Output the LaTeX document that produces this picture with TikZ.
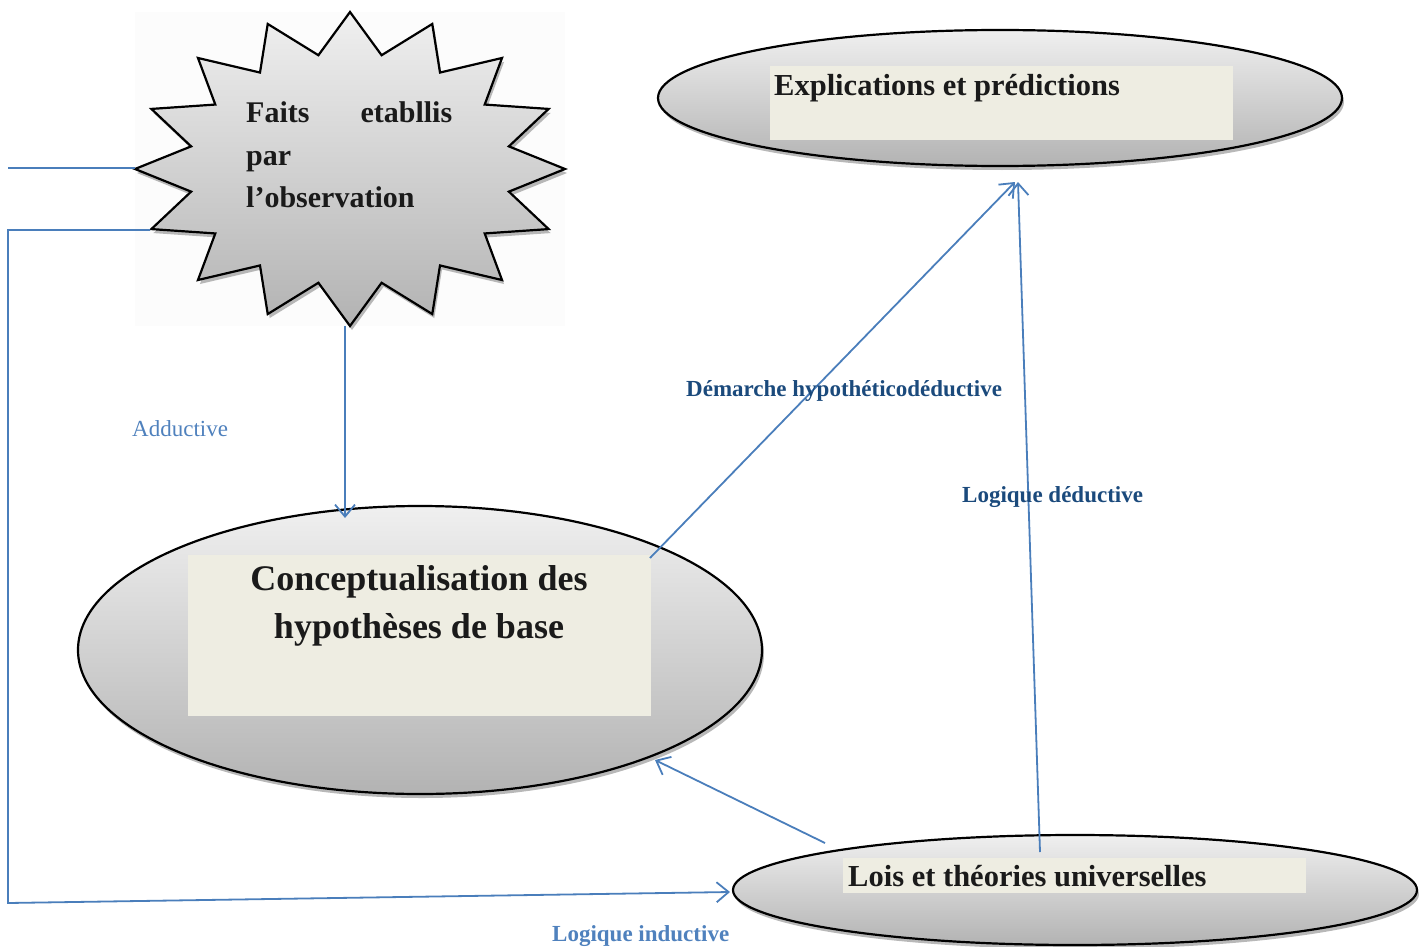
\documentclass[tikz,border=0pt]{standalone}
\usepackage{fontspec}
\setmainfont{Liberation Serif}
\usetikzlibrary{shapes.geometric,arrows.meta,shadows}
\definecolor{conn}{HTML}{4A7EBB}
\definecolor{lbldark}{HTML}{1B4A7C}
\definecolor{lbllight}{HTML}{4F81BD}
\definecolor{beige}{HTML}{EEEDE2}
\definecolor{ink}{HTML}{1A1A1A}
\definecolor{backdrop}{HTML}{FCFCFC}
\tikzset{
  grayfill/.style={top color=gray!12, bottom color=gray!60, draw=black, line width=2.2pt,
    drop shadow={shadow xshift=2pt, shadow yshift=-4pt, fill=gray!70, opacity=0.8}},
  oval/.style={ellipse, grayfill, inner sep=0pt},
  panel/.style={fill=beige, inner sep=0pt, draw=none},
  boxtext/.style={font=\bfseries, text=ink, inner sep=0pt},
  connector/.style={draw=conn, line width=1.8pt, -{Straight Barb[length=12pt,width=20pt,line width=1.8pt]}},
  plainconn/.style={draw=conn, line width=1.8pt},
  lbl/.style={inner sep=0pt, font=\bfseries\fontsize{23}{26}\selectfont, text=lbldark},
}
\begin{document}
\begin{tikzpicture}[x=1pt,y=-1pt]
\useasboundingbox (0,0) rectangle (1426,947);
% faint backdrop of the star
\fill[backdrop] (135,12) rectangle (565,326);
% star
\path[grayfill] (350+215,169)
  \foreach \i in {1,...,31} {
    -- ({350+(mod(\i,2)==0 ? 215 : 162)*cos(\i*11.25)}, {169-(mod(\i,2)==0 ? 157 : 116)*sin(\i*11.25)})
  } -- cycle;
\coordinate (starL) at (135,168);
\coordinate (starLL) at (150,230);
\coordinate (starB) at (345,326);
\node[boxtext, anchor=base west, font=\bfseries\fontsize{30}{34}\selectfont] (f1) at (246,123) {\makebox[206pt][s]{Faits\hfill etabllis}};
\node[boxtext, anchor=base west, font=\bfseries\fontsize{30}{34}\selectfont] (f2) at (246,165) {par};
\node[boxtext, anchor=base west, font=\bfseries\fontsize{30}{34}\selectfont] (f3) at (246,207) {l’observation};

% top ellipse
\node[oval, minimum width=684pt, minimum height=136pt] (expl) at (1000,98) {};
\node[panel, minimum width=463pt, minimum height=74pt] (explp) at (1001.5,103) {};
\node[boxtext, anchor=base west, font=\bfseries\fontsize{30.5}{34}\selectfont] (explt) at (774,96) {Explications et prédictions};

% big ellipse
\node[oval, minimum width=684pt, minimum height=288pt] (concept) at (420,650) {};
\node[panel, minimum width=463pt, minimum height=161pt] (conceptp) at (419.5,635.5) {};
\node[boxtext, anchor=base, font=\bfseries\fontsize{36}{40}\selectfont] (c1) at (419,590) {Conceptualisation des};
\node[boxtext, anchor=base, font=\bfseries\fontsize{36}{40}\selectfont] (c2) at (419,638) {hypothèses de base};

% bottom ellipse
\node[oval, minimum width=684pt, minimum height=110pt] (lois) at (1075,890) {};
\node[panel, minimum width=463pt, minimum height=35pt] (loisp) at (1074.5,875.5) {};
\node[boxtext, anchor=base west, font=\bfseries\fontsize{30.5}{34}\selectfont] (loist) at (848,886) {Lois et théories universelles};

% connector end points
\coordinate (leftstub) at (8,168);
\coordinate (corner1) at (8,230);
\coordinate (corner2) at (8,903);
\coordinate (indTip) at (730,892);
\coordinate (adTip) at (345,518);
\coordinate (hypStart) at (650,558);
\coordinate (hypTip) at (1015,182);
\coordinate (dedStart) at (1040,852);
\coordinate (dedTip) at (1018,182);
\coordinate (backStart) at (825,843);
\coordinate (backTip) at (655,760);

% connectors
\draw[plainconn] (leftstub) -- (starL);
\draw[connector] (starLL) -- (corner1) -- (corner2) -- (indTip);
\draw[connector] (starB) -- (adTip);
\draw[connector] (hypStart) -- (hypTip);
\draw[connector] (dedStart) -- (dedTip);
\draw[connector] (backStart) -- (backTip);

% labels
\node[lbl, anchor=base west] (lhyp) at (686,396) {Démarche hypothéticodéductive};
\node[lbl, anchor=base west] (lded) at (962,502) {Logique déductive};
\node[lbl, anchor=base west, text=lbllight] (lind) at (552,941) {Logique inductive};
\node[inner sep=0pt, anchor=base west, text=lbllight, font=\fontsize{23}{26}\selectfont] (ladd) at (132,436) {Adductive};
\end{tikzpicture}
\end{document}
